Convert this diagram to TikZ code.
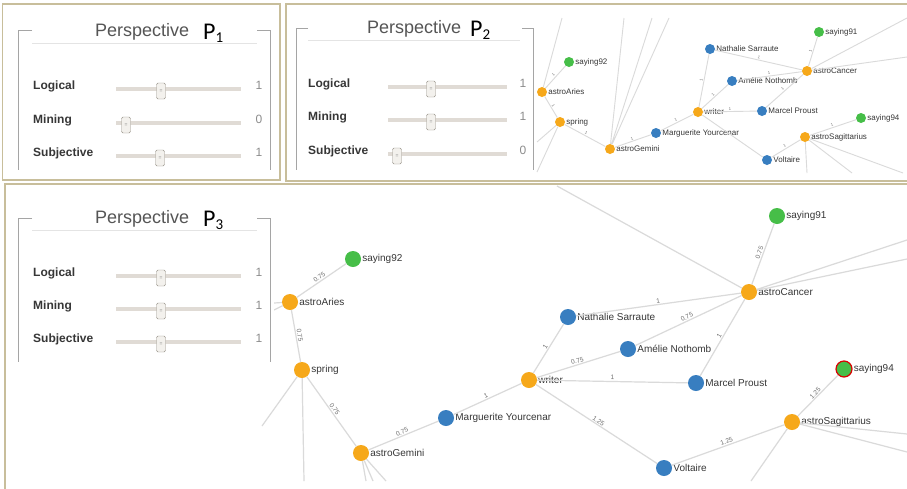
\documentclass[tikz,border=0pt]{standalone}
\usepackage{fontspec}
\setmainfont{Liberation Sans}
\newfontfamily\pfont{Carlito}
\definecolor{framec}{RGB}{200,190,155}
\definecolor{bracketc}{RGB}{165,165,165}
\definecolor{rulec}{RGB}{228,228,228}
\definecolor{titlec}{RGB}{85,85,85}
\definecolor{inkc}{RGB}{55,55,55}
\definecolor{valc}{RGB}{140,140,140}
\definecolor{trackc}{RGB}{224,219,213}
\definecolor{knobc}{RGB}{150,145,135}
\definecolor{knobf}{RGB}{243,241,237}
\definecolor{linkc}{RGB}{218,218,218}
\definecolor{wtc}{RGB}{110,110,110}
\definecolor{astroc}{RGB}{246,168,26}
\definecolor{personc}{RGB}{56,126,192}
\definecolor{sayc}{RGB}{70,190,72}
\begin{document}
\begin{tikzpicture}[x=1pt,y=-1pt,
  panel/.style={draw=framec,line width=1.5pt},
  brk/.style={draw=bracketc,line width=1pt},
  ttl/.style={anchor=base west,inner sep=0pt,text=titlec,font=\fontsize{18}{18}\selectfont},
  pp/.style={anchor=base west,inner sep=0pt,font=\pfont\fontsize{24}{24}\selectfont},
  slab/.style={anchor=base west,inner sep=0pt,text=inkc,font=\bfseries\fontsize{12}{12}\selectfont},
  sval/.style={anchor=base,inner sep=0pt,text=valc,font=\fontsize{12}{12}\selectfont},
  rail/.style={draw=trackc,line width=4pt},
  knob/.style={draw=knobc,fill=knobf,rounded corners=1.5pt,minimum width=9pt,minimum height=16pt,inner sep=0pt,text=gray,font=\fontsize{5}{5}\selectfont},
  link/.style={draw=linkc,line width=1.2pt},
  wt/.style={midway,sloped,above,inner sep=1pt,text=wtc,font=\fontsize{6.5}{6.5}\selectfont},
  wts/.style={midway,sloped,above,inner sep=1pt,text=wtc,font=\fontsize{4}{4}\selectfont},
  big/.style={circle,inner sep=0pt,minimum size=16pt},
  sm/.style={circle,inner sep=0pt,minimum size=10pt},
  nl/.style={inner sep=1pt,text=inkc,font=\fontsize{10}{10}\selectfont},
  nls/.style={inner sep=1pt,text=inkc,font=\fontsize{8}{8}\selectfont}]
\useasboundingbox[fill=white] (0,0) rectangle (907,488);

\node[sm,fill=sayc,label={[nls]right:saying92}] (say92b) at (569,62) {};
\node[sm,fill=astroc,label={[nls]right:astroAries}] (aries2) at (542,92) {};
\node[sm,fill=astroc,label={[nls]right:spring}] (spring2) at (560,122) {};
\node[sm,fill=astroc,label={[nls]right:astroGemini}] (gemini2) at (610,149) {};
\node[sm,fill=personc,label={[nls]right:Marguerite Yourcenar}] (marg2) at (656,133) {};
\node[sm,fill=astroc,label={[nls]right:writer}] (writer2) at (698,112) {};
\node[sm,fill=personc,label={[nls]right:Nathalie Sarraute}] (nath2) at (710,49) {};
\node[sm,fill=personc,label={[nls]right:Amélie Nothomb}] (amel2) at (732,81) {};
\node[sm,fill=personc,label={[nls]right:Marcel Proust}] (proust2) at (762,111) {};
\node[sm,fill=astroc,label={[nls]right:astroCancer}] (cancer2) at (807,71) {};
\node[sm,fill=sayc,label={[nls]right:saying91}] (say91b) at (819,32) {};
\node[sm,fill=sayc,label={[nls]right:saying94}] (say94b) at (861,118) {};
\node[sm,fill=astroc,label={[nls]right:astroSagittarius}] (sag2) at (805,137) {};
\node[sm,fill=personc,label={[nls]right:Voltaire}] (volt2) at (767,160) {};
\coordinate (a2u) at (562,18);
\coordinate (s2a) at (537,142);
\coordinate (s2b) at (537,172);
\coordinate (g2a) at (624,18);
\coordinate (g2b) at (652,18);
\coordinate (g2c) at (669,18);
\coordinate (c2a) at (907,18);
\coordinate (c2b) at (907,57);
\coordinate (t2a) at (807,173);
\coordinate (t2b) at (852,173);
\coordinate (t2c) at (903,173);
\draw[link,line width=0.9pt] (aries2) -- (a2u) (spring2) -- (s2a) (spring2) -- (s2b)
  (gemini2) -- (g2a) (gemini2) -- (g2b) (gemini2) -- (g2c)
  (cancer2) -- (c2a) (cancer2) -- (c2b)
  (sag2) -- (t2a) (sag2) -- (t2b) (sag2) -- (t2c);
\draw[link,line width=0.9pt] (aries2) -- node[wts]{1} (say92b);
\draw[link,line width=0.9pt] (aries2) -- node[wts]{1} (spring2);
\draw[link,line width=0.9pt] (spring2) -- node[wts]{1} (gemini2);
\draw[link,line width=0.9pt] (gemini2) -- node[wts]{1} (marg2);
\draw[link,line width=0.9pt] (marg2) -- node[wts]{1} (writer2);
\draw[link,line width=0.9pt] (writer2) -- node[wts]{1} (nath2);
\draw[link,line width=0.9pt] (writer2) -- node[wts]{1} (amel2);
\draw[link,line width=0.9pt] (writer2) -- node[wts]{1} (proust2);
\draw[link,line width=0.9pt] (writer2) -- (volt2);
\draw[link,line width=0.9pt] (nath2) -- node[wts]{1} (cancer2);
\draw[link,line width=0.9pt] (amel2) -- node[wts]{1} (cancer2);
\draw[link,line width=0.9pt] (proust2) -- node[wts]{1} (cancer2);
\draw[link,line width=0.9pt] (cancer2) -- node[wts]{1} (say91b);
\draw[link,line width=0.9pt] (volt2) -- node[wts]{1} (sag2);
\draw[link,line width=0.9pt] (sag2) -- node[wts]{1} (say94b);

\node[big,fill=sayc,label={[nl]right:saying92}] (say92c) at (353,259) {};
\node[big,fill=astroc,label={[nl]right:astroAries}] (aries3) at (290,302) {};
\node[big,fill=astroc,label={[nl]right:spring}] (spring3) at (302,370) {};
\node[big,fill=astroc,label={[nl]right:astroGemini}] (gemini3) at (361,453) {};
\node[big,fill=personc,label={[nl]right:Marguerite Yourcenar}] (marg3) at (446,418) {};
\node[big,fill=astroc,label={[nl]right:writer}] (writer3) at (529,380) {};
\node[big,fill=personc,label={[nl]right:Nathalie Sarraute}] (nath3) at (568,317) {};
\node[big,fill=personc,label={[nl]right:Amélie Nothomb}] (amel3) at (628,349) {};
\node[big,fill=personc,label={[nl]right:Marcel Proust}] (proust3) at (696,383) {};
\node[big,fill=astroc,label={[nl]right:astroCancer}] (cancer3) at (749,292) {};
\node[big,fill=sayc,label={[nl]right:saying91}] (say91c) at (777,216) {};
\node[big,fill=sayc,draw=red!85!black,line width=1.2pt,label={[nl]right:saying94}] (say94c) at (844,369) {};
\node[big,fill=astroc,label={[nl]right:astroSagittarius}] (sag3) at (792,422) {};
\node[big,fill=personc,label={[nl]right:Voltaire}] (volt3) at (664,468) {};
\coordinate (a3a) at (274,303);
\coordinate (a3b) at (274,310);
\coordinate (s3a) at (262,426);
\coordinate (s3b) at (304,481);
\coordinate (g3a) at (366,481);
\coordinate (g3b) at (373,481);
\coordinate (g3c) at (386,481);
\coordinate (c3a) at (557,186);
\coordinate (c3b) at (907,240);
\coordinate (c3c) at (907,259);
\coordinate (t3a) at (907,434);
\coordinate (t3b) at (907,452);
\coordinate (t3c) at (751,481);
\draw[link] (aries3) -- (a3a) (aries3) -- (a3b) (spring3) -- (s3a) (spring3) -- (s3b)
  (gemini3) -- (g3a) (gemini3) -- (g3b) (gemini3) -- (g3c)
  (cancer3) -- (c3a) (cancer3) -- (c3b) (cancer3) -- (c3c)
  (sag3) -- (t3a) (sag3) -- (t3b) (sag3) -- (t3c);
\draw[link] (aries3) -- node[wt]{0.75} (say92c);
\draw[link] (aries3) -- node[wt]{0.75} (spring3);
\draw[link] (spring3) -- node[wt]{0.75} (gemini3);
\draw[link] (gemini3) -- node[wt]{0.75} (marg3);
\draw[link] (marg3) -- node[wt]{1} (writer3);
\draw[link] (writer3) -- node[wt]{1} (nath3);
\draw[link] (writer3) -- node[wt]{0.75} (amel3);
\draw[link] (writer3) -- node[wt]{1} (proust3);
\draw[link] (writer3) -- node[wt]{1.25} (volt3);
\draw[link] (nath3) -- node[wt]{1} (cancer3);
\draw[link] (amel3) -- node[wt]{0.75} (cancer3);
\draw[link] (proust3) -- node[wt]{1} (cancer3);
\draw[link] (cancer3) -- node[wt]{0.75} (say91c);
\draw[link] (volt3) -- node[wt]{1.25} (sag3);
\draw[link] (sag3) -- node[wt]{1.25} (say94c);

\fill[white] (6,186) rectangle (274,366);
\draw[brk] (32,30) -- (18,30) -- (18,170) (257,30) -- (270,30) -- (270,170);
\draw[rulec] (32,43) -- (257,43);
\node[ttl] (title1) at (95,36) {Perspective};
\node[pp] (p1) at (203,39) {P\raisebox{-3pt}{\fontsize{15}{15}\selectfont 1}};
\foreach \lab/\yy/\hx/\val in {Logical/89/161/1,Mining/123/126/0,Subjective/156/160/1}{
  \node[slab] (l1\lab) at (33,\yy) {\lab};
  \draw[rail] (116,\yy) -- (241,\yy);
  \node[knob] (k1\lab) at (\hx,\yy+2) {=};
  \node[sval] (v1\lab) at (259,\yy) {\val};
}
\draw[brk] (308,28) -- (296,28) -- (296,170) (522,28) -- (533,28) -- (533,170);
\draw[rulec] (308,40) -- (520,40);
\node[ttl] (title2) at (367,33) {Perspective};
\node[pp] (p2) at (470,36) {P\raisebox{-3pt}{\fontsize{15}{15}\selectfont 2}};
\foreach \lab/\yy/\hx/\val in {Logical/87/431/1,Mining/120/431/1,Subjective/154/397/0}{
  \node[slab] (l2\lab) at (308,\yy) {\lab};
  \draw[rail] (388,\yy) -- (507,\yy);
  \node[knob] (k2\lab) at (\hx,\yy+2) {=};
  \node[sval] (v2\lab) at (523,\yy) {\val};
}
\draw[brk] (32,218) -- (18,218) -- (18,362) (257,218) -- (270,218) -- (270,362);
\draw[rulec] (32,230) -- (257,230);
\node[ttl] (title3) at (95,223) {Perspective};
\node[pp] (p3) at (203,226) {P\raisebox{-3pt}{\fontsize{15}{15}\selectfont 3}};
\foreach \lab/\yy/\hx/\val in {Logical/276/161/1,Mining/309/161/1,Subjective/342/161/1}{
  \node[slab] (l3\lab) at (33,\yy) {\lab};
  \draw[rail] (116,\yy) -- (241,\yy);
  \node[knob] (k3\lab) at (\hx,\yy+2) {=};
  \node[sval] (v3\lab) at (259,\yy) {\val};
}
\draw[panel] (2.5,4) rectangle (280,180);
\draw[panel] (286,4) rectangle (912,181);
\draw[panel] (5,184) rectangle (912,492);
\end{tikzpicture}
\end{document}
